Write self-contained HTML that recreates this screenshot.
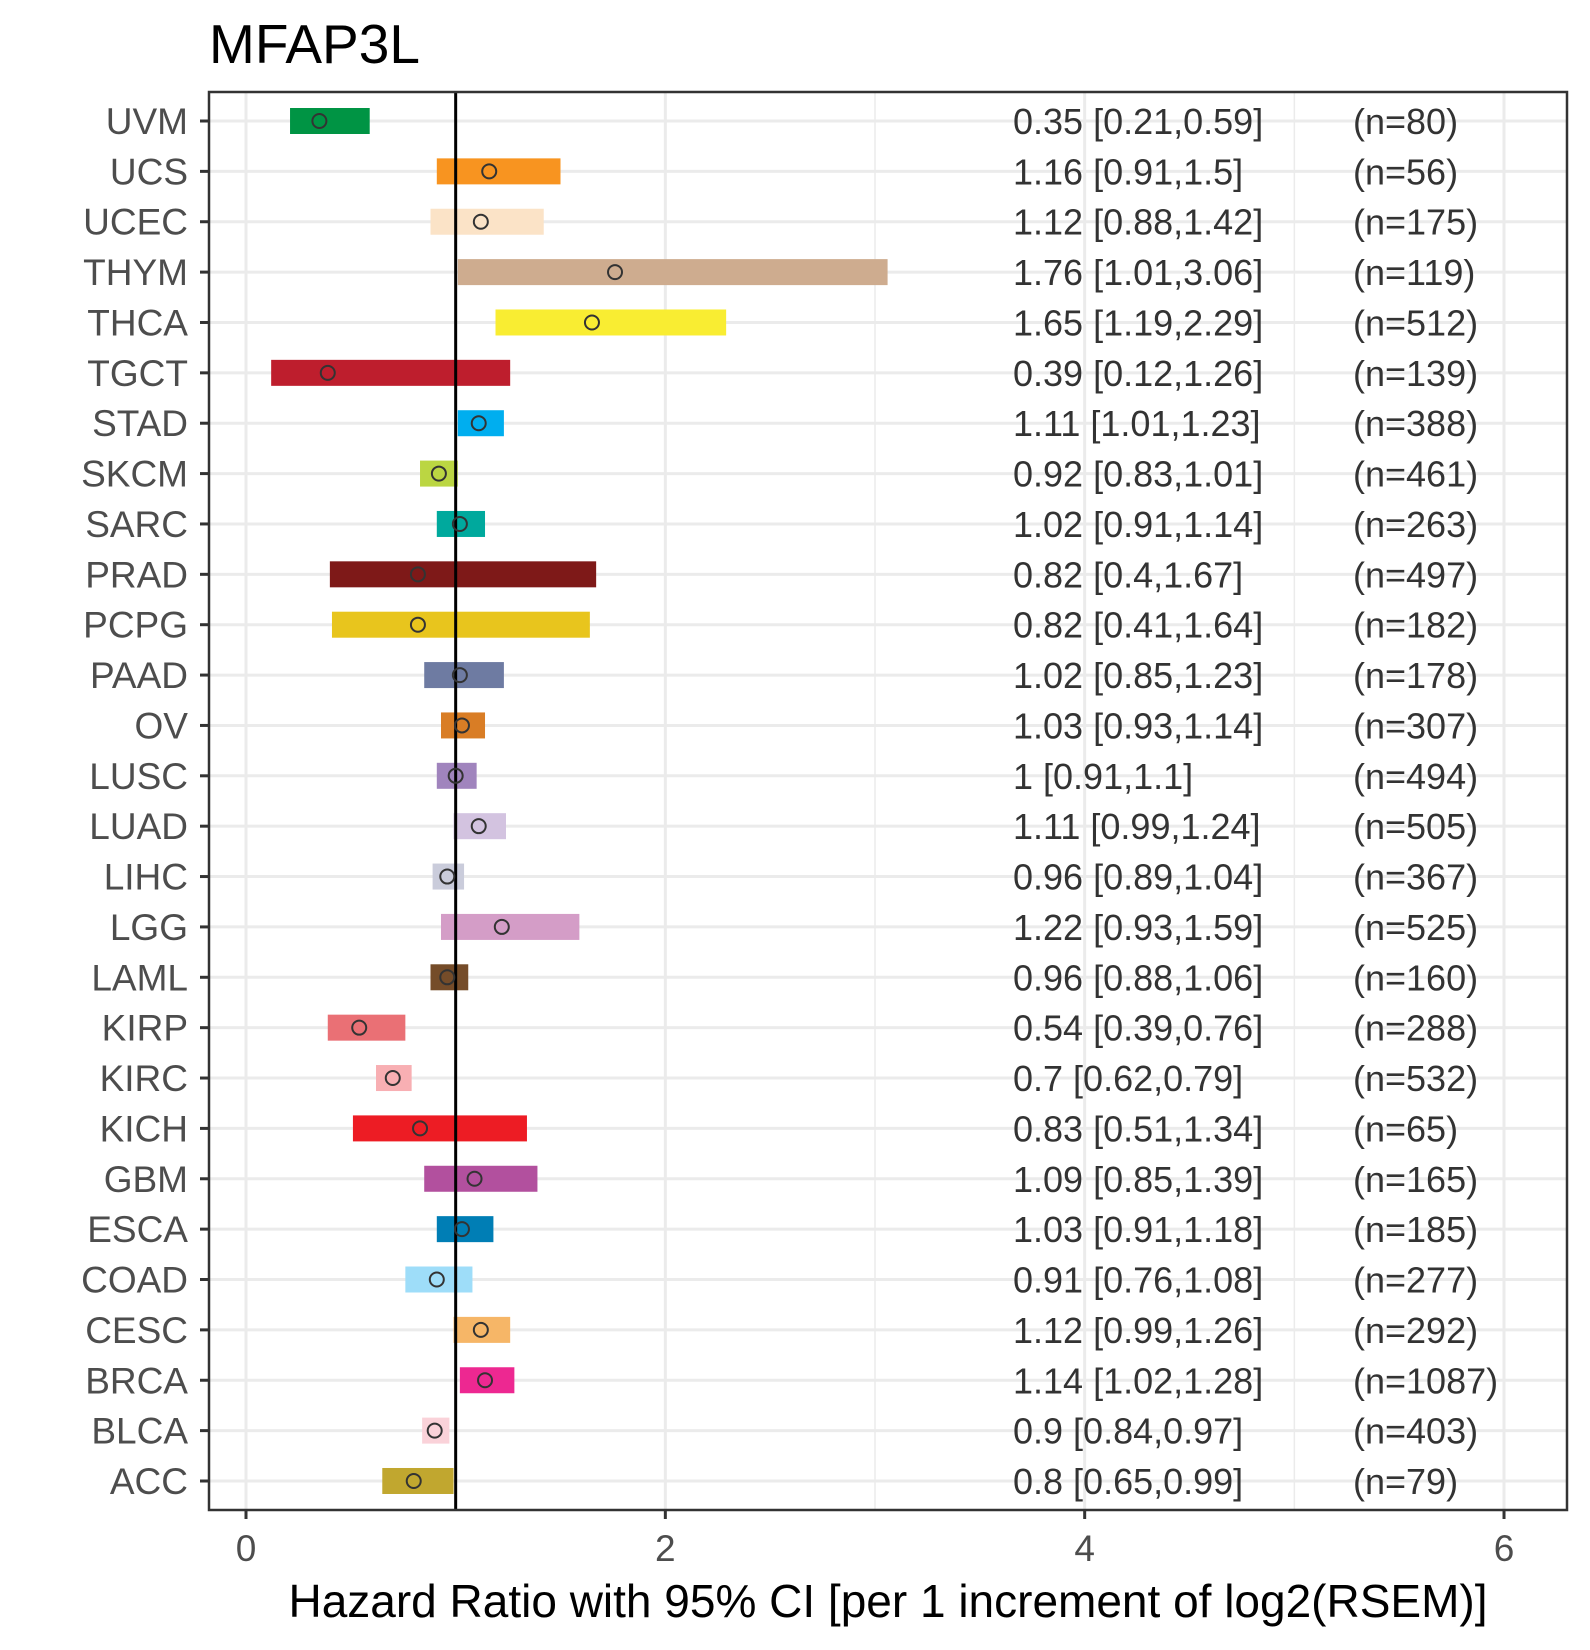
<!DOCTYPE html>
<html><head><meta charset="utf-8"><style>
body{margin:0;background:#fff}
svg{display:block;font-family:"Liberation Sans",Arial,sans-serif}
</style></head><body>
<svg id="c" width="1590" height="1650" viewBox="0 0 1590 1650"></svg>
<script>
const cancers=["UVM","UCS","UCEC","THYM","THCA","TGCT","STAD","SKCM","SARC","PRAD","PCPG","PAAD","OV","LUSC","LUAD","LIHC","LGG","LAML","KIRP","KIRC","KICH","GBM","ESCA","COAD","CESC","BRCA","BLCA","ACC"];
const hr=[0.35,1.16,1.12,1.76,1.65,0.39,1.11,0.92,1.02,0.82,0.82,1.02,1.03,1,1.11,0.96,1.22,0.96,0.54,0.7,0.83,1.09,1.03,0.91,1.12,1.14,0.9,0.8];
const lower=[0.21,0.91,0.88,1.01,1.19,0.12,1.01,0.83,0.91,0.4,0.41,0.85,0.93,0.91,0.99,0.89,0.93,0.88,0.39,0.62,0.51,0.85,0.91,0.76,0.99,1.02,0.84,0.65];
const upper=[0.59,1.5,1.42,3.06,2.29,1.26,1.23,1.01,1.14,1.67,1.64,1.23,1.14,1.1,1.24,1.04,1.59,1.06,0.76,0.79,1.34,1.39,1.18,1.08,1.26,1.28,0.97,0.99];
const ns=[80,56,175,119,512,139,388,461,263,497,182,178,307,494,505,367,525,160,288,532,65,165,185,277,292,1087,403,79];
const colors=["#009444","#F89420","#FBE3C7","#CEAC8F","#F9ED32","#BE1E2D","#00AEEF","#BBD642","#00A99D","#7E1918","#E8C51D","#6E7BA2","#D97D25","#A084BD","#D3C3E0","#CACCDB","#D49DC7","#754C29","#EA7075","#F8AFB3","#ED1C24","#B2509E","#007EB5","#9EDDF9","#F6B667","#ED2891","#FAD2D9","#C1A72F"];
const xTicks=[0,2,4,6];
const xMinor=[1,3,5];

const svg=document.getElementById('c');
const NS='http://www.w3.org/2000/svg';
const L=209,R=1567,T=92,B=1510;
const x=v=>246+v*209.67;
const y=i=>121+i*50.37;
function mk(t,a,p){const e=document.createElementNS(NS,t);for(const k in a)e.setAttribute(k,a[k]);(p||svg).appendChild(e);return e;}

const title=mk('text',{x:209,y:63,'font-size':55,fill:'#000'});title.textContent='MFAP3L';



mk('rect',{x:L,y:T,width:R-L,height:B-T,fill:'#fff'});
xMinor.forEach(v=>{const g=mk('line',{x1:x(v),x2:x(v),y1:T,y2:B,stroke:'#ebebeb','stroke-width':1.5});

});
xTicks.forEach(v=>{const g=mk('line',{x1:x(v),x2:x(v),y1:T,y2:B,stroke:'#ebebeb','stroke-width':3});

});
cancers.forEach((c,i)=>{const g=mk('line',{x1:L,x2:R,y1:y(i),y2:y(i),stroke:'#ebebeb','stroke-width':3});

});

cancers.forEach((c,i)=>{
  const b=mk('rect',{x:x(lower[i]),y:y(i)-13,width:x(upper[i])-x(lower[i]),height:26,fill:colors[i]});
  
  
});
const ref=mk('line',{x1:x(1),x2:x(1),y1:T,y2:B,stroke:'#000','stroke-width':3});


cancers.forEach((c,i)=>{
  const p=mk('circle',{cx:x(hr[i]),cy:y(i),r:7,fill:'none',stroke:'#333','stroke-width':2});
  
  
  const t=mk('text',{x:1013,y:y(i)+13,'font-size':36,fill:'#333'});
  t.textContent=hr[i]+' ['+lower[i]+','+upper[i]+']';
  
  
  const n=mk('text',{x:1353,y:y(i)+13,'font-size':36,fill:'#333'});
  n.textContent='(n='+ns[i]+')';
  
  
  const tk=mk('line',{x1:200,x2:L,y1:y(i),y2:y(i),stroke:'#333','stroke-width':3});
  
  
  const yl=mk('text',{x:188,y:y(i)+13,'font-size':37,fill:'#4d4d4d','text-anchor':'end'});
  yl.textContent=c;
  
  
});
const border=mk('rect',{x:L,y:T,width:R-L,height:B-T,fill:'none',stroke:'#333','stroke-width':2.5});


xTicks.forEach(v=>{
  const tk=mk('line',{x1:x(v),x2:x(v),y1:B,y2:B+9,stroke:'#333','stroke-width':3});
  
  
  const t=mk('text',{x:x(v),y:1561,'font-size':37,fill:'#4d4d4d','text-anchor':'middle'});
  t.textContent=v;
  
  
});
const xt=mk('text',{x:(L+R)/2,y:1617,'font-size':46,fill:'#000','text-anchor':'middle'});
xt.textContent='Hazard Ratio with 95% CI [per 1 increment of log2(RSEM)]';


</script>
</body></html>
